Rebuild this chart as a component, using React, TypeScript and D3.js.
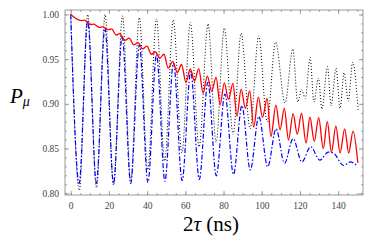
import * as d3 from "d3";
import { useRef, useEffect } from "react";

// extrema: [2tau (ns), P_mu]
const dottedCurve: [number, number][] = [
  [0, 1.0], [4.5, 0.803], [8.9, 1.0], [13.5, 0.806], [18.0, 1.0], [22.4, 0.809],
  [27.1, 0.9985], [31.4, 0.814], [35.9, 0.9966], [40.3, 0.826], [44.9, 0.995],
  [49.2, 0.836], [53.7, 0.994], [58.2, 0.845], [62.6, 0.991], [67.2, 0.852],
  [71.9, 0.9895], [76.1, 0.857], [80.4, 0.9847], [85.0, 0.866], [89.2, 0.979],
  [93.9, 0.872], [98.4, 0.976], [102.8, 0.88], [107.2, 0.969], [112.2, 0.901],
  [116.3, 0.9615], [118.8, 0.902], [120.9, 0.916], [122.8, 0.906], [125.3, 0.952],
  [127.3, 0.902], [129.7, 0.929], [131.5, 0.894], [134.4, 0.9417], [136.3, 0.898],
  [138.9, 0.94], [141.0, 0.895], [143.1, 0.935], [145.3, 0.903], [147.6, 0.9466],
  [150.5, 0.891],
];

const dashDotCurve: [number, number][] = [
  [0, 1.0], [4.4, 0.811], [8.9, 0.993], [13.4, 0.811], [17.9, 0.985], [22.4, 0.811],
  [26.9, 0.976], [31.4, 0.811], [35.9, 0.966], [40.4, 0.812], [44.9, 0.955],
  [49.3, 0.8135], [53.8, 0.946], [58.3, 0.814], [62.8, 0.936], [67.3, 0.8155],
  [71.8, 0.924], [76.2, 0.8195], [80.7, 0.911], [85.2, 0.821], [89.6, 0.898],
  [94.0, 0.826], [98.5, 0.886], [103.1, 0.8295], [107.5, 0.872], [111.9, 0.8335],
  [116.4, 0.861], [121.0, 0.835], [125.6, 0.852], [130.4, 0.837], [134.8, 0.846],
  [137.5, 0.845], [142.8, 0.831], [146.3, 0.835], [150.3, 0.83],
];

const solidCurve: [number, number][] = [
  [0, 1.0], [5.5, 0.9932], [7.0, 0.9936], [10.5, 0.9888], [12.0, 0.9892],
  [15.0, 0.9855], [16.6, 0.9862], [19.6, 0.983], [21.4, 0.9838], [23.8, 0.977],
  [25.7, 0.9785], [28.3, 0.9708], [30.6, 0.9735], [33.0, 0.966], [35.3, 0.9685],
  [37.6, 0.9615], [39.9, 0.9645], [42.2, 0.9555], [44.4, 0.958], [46.6, 0.951],
  [48.8, 0.9555], [51.0, 0.94], [53.4, 0.9475], [55.8, 0.935], [58.0, 0.944],
  [60.3, 0.924], [62.6, 0.939], [64.8, 0.9255], [67.0, 0.9395], [69.3, 0.912],
  [71.5, 0.931], [73.8, 0.914], [76.1, 0.93], [78.2, 0.899], [80.4, 0.9235],
  [82.6, 0.905], [84.9, 0.923], [87.0, 0.886], [89.2, 0.9165], [91.4, 0.895],
  [93.7, 0.9145], [95.8, 0.874], [98.2, 0.9075], [100.4, 0.885], [102.8, 0.906],
  [104.8, 0.8635], [107.4, 0.8985], [109.6, 0.871], [111.8, 0.895], [114.0, 0.8595],
  [116.4, 0.889], [118.6, 0.866], [120.8, 0.8895], [123.2, 0.856], [125.2, 0.885],
  [127.5, 0.858], [129.8, 0.8845], [132.2, 0.85], [134.3, 0.88], [136.5, 0.846],
  [138.8, 0.875], [141.0, 0.845], [143.4, 0.872], [145.5, 0.845], [147.8, 0.8695],
  [150.3, 0.834],
];

const xTicks = [0, 20, 40, 60, 80, 100, 120, 140];
const yTicks = [0.8, 0.85, 0.9, 0.95, 1.0];
const xMinor = d3.range(0, 155, 5);
const yMinor = d3.range(80, 101).map((v) => v / 100);

const serif = "Liberation Serif, serif";

export default function App() {
  const width = 374;
  const height = 248;
  const left = 65, right = 363, top = 10, bottom = 195;

  const x = d3.scaleLinear([-3, 153], [left, right]);
  const y = d3.scaleLinear([0.798, 1.005], [bottom, top]);

  const line = d3
    .line<[number, number]>()
    .x((d) => x(d[0]))
    .y((d) => y(d[1]))
    .curve(d3.curveMonotoneX);

  const gB = useRef<SVGGElement>(null);
  const gT = useRef<SVGGElement>(null);
  const gL = useRef<SVGGElement>(null);
  const gR = useRef<SVGGElement>(null);

  useEffect(() => {
    const style = (g: any) => {
      g.select(".domain").remove();
      g.attr("font-family", serif).attr("font-size", 9.5).attr("color", "#8a8a8a");
      g.selectAll("text").attr("fill", "#444");
      g.selectAll("line").attr("stroke-width", 0.8);
    };
    const b = d3.select(gB.current);
    b.call(d3.axisBottom(x).tickValues(xMinor).tickSize(-2).tickFormat(() => ""));
    b.append("g").call(
      d3.axisBottom(x).tickValues(xTicks).tickSize(-4).tickPadding(7.5).tickFormat(d3.format("d"))
    ).call(style);
    b.call(style);
    const t = d3.select(gT.current);
    t.call(d3.axisTop(x).tickValues(xMinor).tickSize(-2).tickFormat(() => ""));
    t.append("g").call(d3.axisTop(x).tickValues(xTicks).tickSize(-4).tickFormat(() => "")).call(style);
    t.call(style);
    const l = d3.select(gL.current);
    l.call(d3.axisLeft(y).tickValues(yMinor).tickSize(-2).tickFormat(() => ""));
    l.append("g").call(
      d3.axisLeft(y).tickValues(yTicks).tickSize(-4).tickPadding(6).tickFormat(d3.format(".2f"))
    ).call(style);
    l.call(style);
    const r = d3.select(gR.current);
    r.call(d3.axisRight(y).tickValues(yMinor).tickSize(-2).tickFormat(() => ""));
    r.append("g").call(d3.axisRight(y).tickValues(yTicks).tickSize(-4).tickFormat(() => "")).call(style);
    r.call(style);
  }, []);

  return (
    <div style={{ position: "absolute", left: 0, top: 0 }}>
      <svg width={width} height={height} style={{ display: "block", background: "#fff" }}>
        <defs>
          <clipPath id="plot">
            <rect x={left} y={top} width={right - left} height={bottom - top} />
          </clipPath>
        </defs>
        <g clipPath="url(#plot)">
          <path d={line(dottedCurve) ?? ""} fill="none" stroke="#000" strokeWidth={1} strokeDasharray="1,2" />
          <path d={line(dashDotCurve) ?? ""} fill="none" stroke="#0000ff" strokeWidth={1.2} strokeDasharray="5,2,1.5,2" />
          <path d={line(solidCurve) ?? ""} fill="none" stroke="#ff0000" strokeWidth={1.3} />
        </g>
        <rect x={left} y={top} width={right - left} height={bottom - top} fill="none" stroke="#9a9a9a" strokeWidth={1} />
        <g ref={gB} transform={`translate(0,${bottom})`} />
        <g ref={gT} transform={`translate(0,${top})`} />
        <g ref={gL} transform={`translate(${left},0)`} />
        <g ref={gR} transform={`translate(${right},0)`} />
        <text x={10} y={103} fontFamily={serif} fontStyle="italic" fontSize={21} fill="#000">
          P<tspan fontSize={14} dy={2.5}>μ</tspan>
        </text>
        <text x={211} y={231} textAnchor="middle" fontFamily={serif} fontSize={21} fill="#000">
          2<tspan fontStyle="italic">τ</tspan> (ns)
        </text>
      </svg>
    </div>
  );
}
